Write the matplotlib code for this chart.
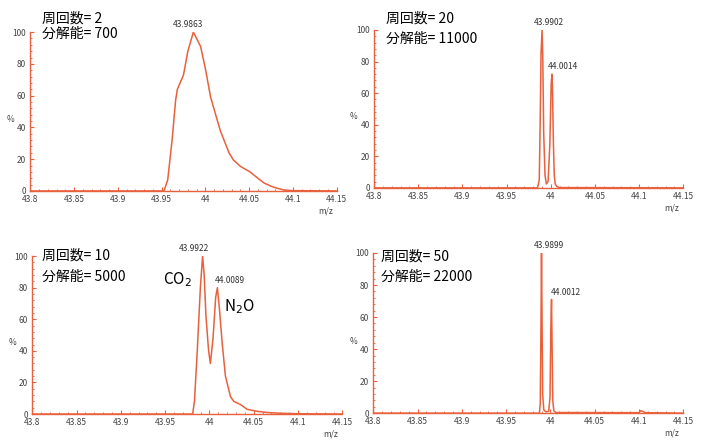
import matplotlib.pyplot as plt
from matplotlib.ticker import MultipleLocator

plt.rcParams['font.family'] = ['Noto Sans CJK JP', 'DejaVu Sans']

RED = '#e8603c'

# 周回数 2 / 分解能 700
mz_2 = [43.80, 43.95, 43.953, 43.957, 43.962, 43.966, 43.968, 43.975, 43.980, 43.9863,
        43.9945, 44.000, 44.006, 44.017, 44.027, 44.032, 44.040, 44.051, 44.060,
        44.067, 44.075, 44.082, 44.090, 44.10, 44.15]
int_2 = [0, 0, 0.5, 7, 32, 57, 64, 73, 88, 100,
         91, 77, 59, 38, 24, 19.5, 15.5, 12, 8,
         5, 3, 1.7, 0.6, 0.2, 0]

# 周回数 20 / 分解能 11000
mz_20 = [43.80, 43.985, 43.987, 43.988, 43.989, 43.9902, 43.991, 43.992, 43.9935,
         43.995, 43.997, 43.999, 44.0005, 44.0014, 44.002, 44.003, 44.004, 44.005,
         44.007, 44.010, 44.15]
int_20 = [0, 0, 5, 40, 85, 100, 82, 35, 8,
          2.5, 4, 28, 66, 72, 62, 28, 8, 2.5,
          0.8, 0.2, 0]

# 周回数 10 / 分解能 5000
mz_10 = [43.80, 43.981, 43.983, 43.986, 43.9897, 43.9922, 43.994, 43.996, 43.999,
         44.001, 44.004, 44.007, 44.0089, 44.011, 44.0143, 44.018, 44.0237, 44.0275,
         44.035, 44.0425, 44.054, 44.065, 44.08, 44.10, 44.15]
int_10 = [0, 0, 8, 38, 80, 100, 88, 62, 40,
          32, 48, 74, 80, 68, 45, 24, 11, 8,
          6, 3, 1.7, 1, 0.5, 0.2, 0]

# 周回数 50 / 分解能 22000
mz_50 = [43.80, 43.9875, 43.9885, 43.9893, 43.9899, 43.9905, 43.9912, 43.9925,
         43.995, 43.998, 43.9995, 44.0005, 44.0012, 44.0018, 44.0026, 44.0038,
         44.006, 44.10, 44.102, 44.104, 44.107, 44.15]
int_50 = [0, 0, 6, 55, 100, 60, 12, 2,
          0.8, 1.2, 10, 55, 71, 45, 8, 1.5,
          0.4, 0.3, 1.5, 1.2, 0.3, 0]

panels = [
    # rect, mz, intensity, 周回数, 分解能, title x / y positions, peak labels (x, y, text, dx)
    ([0.043, 0.566, 0.436, 0.361], mz_2, int_2, '2', '700', 0.039, (1.085, 0.99),
     [(43.9863, 100, '43.9863', -4)]),
    ([0.532, 0.573, 0.440, 0.359], mz_20, int_20, '20', '11000', 0.039, (1.07, 0.943),
     [(43.9902, 100, '43.9902', 5), (44.0014, 72, '44.0014', 8)]),
    ([0.046, 0.059, 0.441, 0.359], mz_10, int_10, '10', '5000', 0.032, (1.0, 0.867),
     [(43.9922, 100, '43.9922', -6), (44.0089, 80, '44.0089', 9)]),
    ([0.531, 0.061, 0.441, 0.364], mz_50, int_50, '50', '22000', 0.026, (0.98, 0.85),
     [(43.9899, 100, '43.9899', 5), (44.0012, 71, '44.0012', 10)]),
]

fig = plt.figure(figsize=(7.03, 4.4), dpi=100)

for rect, mz, inten, cycles, res, tx, (ty1, ty2), peaks in panels:
    ax = fig.add_axes(rect)
    ax.plot(mz, inten, color=RED, lw=1.1)
    ax.set_xlim(43.8, 44.15)
    ax.set_ylim(0, 100)
    ax.set_xticks([43.8, 43.85, 43.9, 43.95, 44.0, 44.05, 44.1, 44.15])
    ax.set_xticklabels(['43.8', '43.85', '43.9', '43.95', '44', '44.05', '44.1', '44.15'])
    ax.set_yticks([0, 20, 40, 60, 80, 100])
    ax.xaxis.set_minor_locator(MultipleLocator(0.01))
    ax.yaxis.set_minor_locator(MultipleLocator(4))
    for s in ['top', 'right']:
        ax.spines[s].set_visible(False)
    for s in ['left', 'bottom']:
        ax.spines[s].set_color(RED)
        ax.spines[s].set_linewidth(1.0)
    ax.tick_params(which='both', direction='in', color=RED, labelsize=6,
                   labelcolor='#444444', pad=3)
    ax.tick_params(which='major', length=3)
    ax.tick_params(which='minor', length=1.5)
    ax.text(-0.065, 0.45, '%', transform=ax.transAxes, fontsize=6,
            color='#444444', ha='center', va='center')
    ax.text(0.987, -0.125, 'm/z', transform=ax.transAxes, fontsize=6,
            style='italic', color='#444444', ha='right', va='center')
    ax.text(tx, ty1, '周回数= ' + cycles, transform=ax.transAxes,
            fontsize=10, va='center', ha='left')
    ax.text(tx, ty2, '分解能= ' + res, transform=ax.transAxes,
            fontsize=10, va='center', ha='left')
    for px, py, lab, dx in peaks:
        ax.annotate(lab, (px, py), xytext=(dx, 2), textcoords='offset points',
                    ha='center', va='bottom', fontsize=6, color='#333333')

ax10 = fig.axes[2]
ax10.text(43.964, 85, 'CO$_2$', fontsize=11, ha='center', va='center')
ax10.text(44.034, 68, 'N$_2$O', fontsize=11, ha='center', va='center')

fig.savefig('out.png', dpi=100)
